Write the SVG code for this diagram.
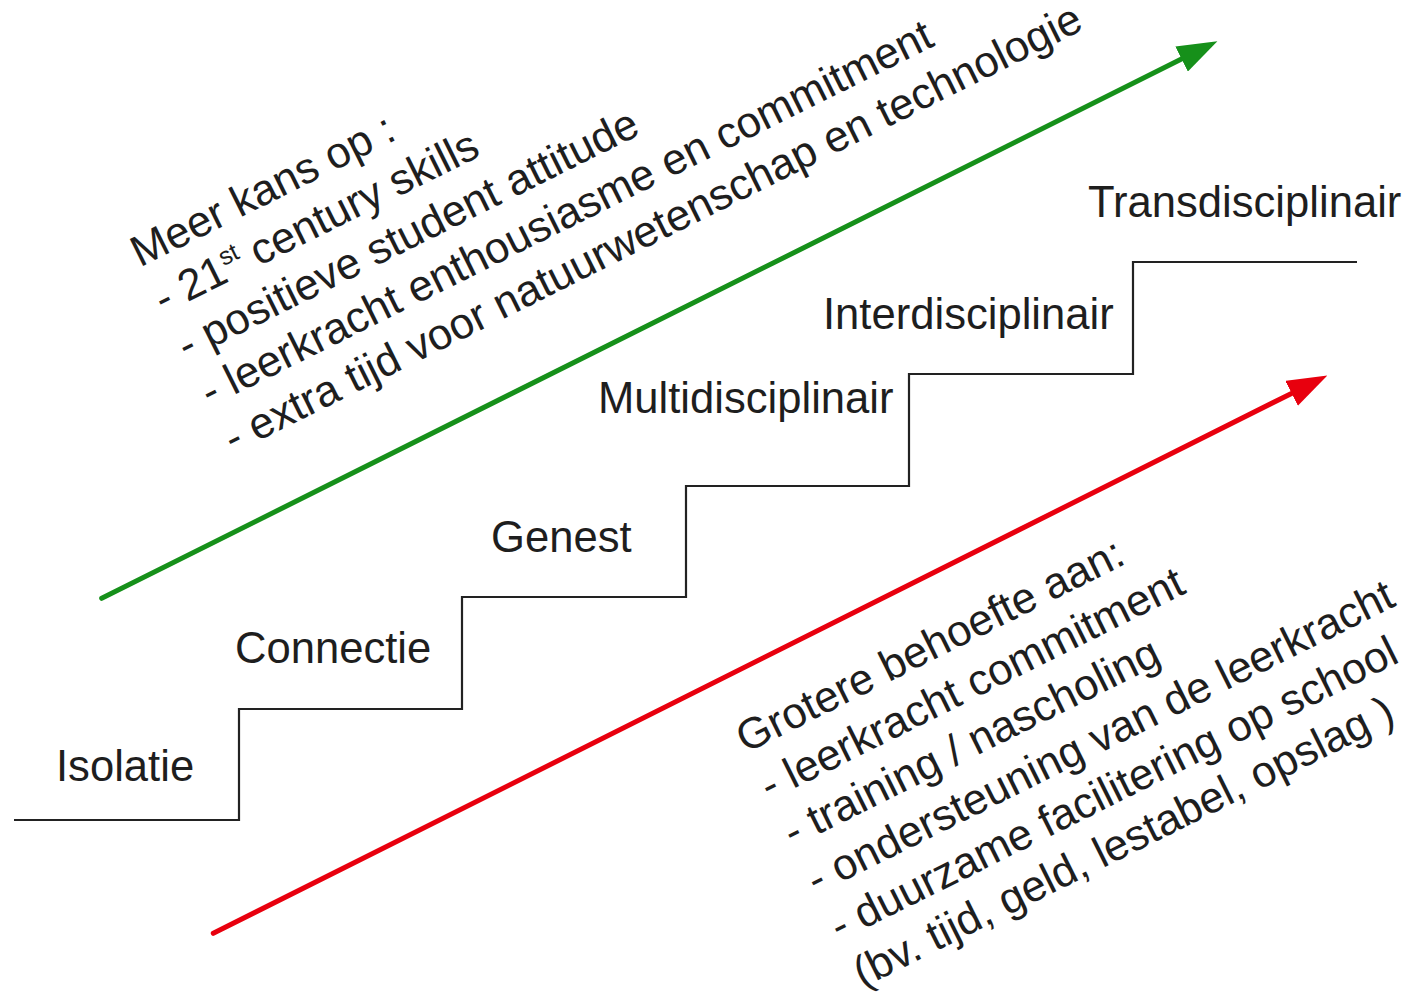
<svg xmlns="http://www.w3.org/2000/svg" width="1408" height="992" viewBox="0 0 1408 992">
<style>
.t{font-family:"Liberation Sans",Arial,sans-serif;font-size:43.6px;fill:#1e1e1e}
.stair{fill:none;stroke:#222;stroke-width:2.2}
.arr{fill:none;stroke-width:5;stroke-linecap:round}
</style>
<defs>
<marker id="hg" markerUnits="userSpaceOnUse" viewBox="0 0 40 28" markerWidth="40" markerHeight="28" refX="1" refY="14" orient="auto"><path d="M0,0 L40,14 L0,28 z" fill="#16901a"/></marker>
<marker id="hr" markerUnits="userSpaceOnUse" viewBox="0 0 40 28" markerWidth="40" markerHeight="28" refX="1" refY="14" orient="auto"><path d="M0,0 L40,14 L0,28 z" fill="#e8000e"/></marker>
</defs>
<rect width="1408" height="992" fill="#fff"/>
<g id="connectors">
<polyline id="stairs" class="stair" points="14,820 239,820 239,709 462,709 462,597 686,597 686,486 909,486 909,374 1133,374 1133,262 1357,262"/>
<line id="green-arrow" class="arr" x1="101.7" y1="598.3" x2="1182.5" y2="58.6" stroke="#16901a" marker-end="url(#hg)"/>
<line id="red-arrow" class="arr" x1="213.3" y1="933.3" x2="1292.5" y2="392.9" stroke="#e8000e" marker-end="url(#hr)"/>
</g>
<g id="isolatie"><text class="t" x="56" y="781">Isolatie</text></g>
<g id="connectie"><text class="t" x="235" y="663">Connectie</text></g>
<g id="genest"><text class="t" x="491" y="552">Genest</text></g>
<g id="multidisciplinair"><text class="t" x="598" y="413">Multidisciplinair</text></g>
<g id="interdisciplinair"><text class="t" x="823" y="329">Interdisciplinair</text></g>
<g id="transdisciplinair"><text class="t" x="1088" y="217">Transdisciplinair</text></g>
<g id="meer-kans" transform="rotate(-26.5)">
<text class="t" x="6" y="302">Meer kans op :</text>
<text class="t" x="6" y="354">- 21<tspan font-size="25" dy="-16">st</tspan><tspan dy="16"> century skills</tspan></text>
<text class="t" x="6" y="406">- positieve student attitude</text>
<text class="t" x="6" y="458">- leerkracht enthousiasme en commitment</text>
<text class="t" x="6" y="510">- extra tijd voor natuurwetenschap en technologie</text>
</g>
<g id="grotere-behoefte" transform="rotate(-26.5)">
<text class="t" x="331" y="1007">Grotere behoefte aan:</text>
<text class="t" x="331" y="1060">- leerkracht commitment</text>
<text class="t" x="331" y="1112">- training / nascholing</text>
<text class="t" x="331" y="1165">- ondersteuning van de leerkracht</text>
<text class="t" x="331" y="1217">- duurzame facilitering op school</text>
<text class="t" x="331" y="1269">(bv. tijd, geld, lestabel, opslag )</text>
</g>
</svg>
